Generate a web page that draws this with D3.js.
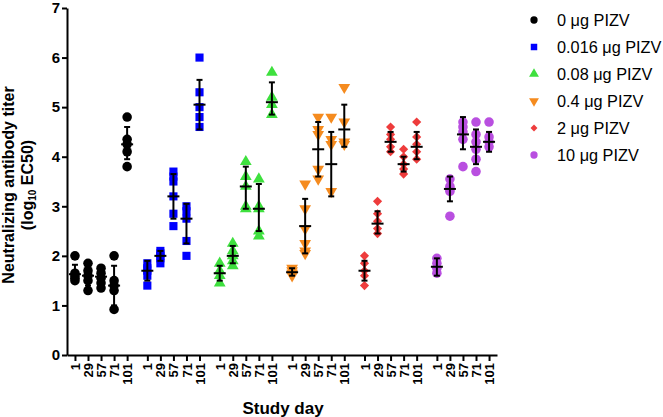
<!DOCTYPE html>
<html><head><meta charset="utf-8">
<script src="https://cdn.jsdelivr.net/npm/d3@7"></script>
<style>body{margin:0;background:#fff}svg{display:block}text{font-family:"Liberation Sans",Arial,sans-serif}</style>
</head><body><svg id="c" width="663" height="417"></svg>
<script>
const days = ["1","29","57","71","101"];
const groups = ["0 μg PIZV","0.016 μg PIZV","0.08 μg PIZV","0.4 μg PIZV","2 μg PIZV","10 μg PIZV"];
const colors = ["#000000","#0000ff","#3ee03e","#f58b1f","#ee3c3c","#b94fe0"];
const shapes = ["circle","square","triangle","triangleDown","diamond","circle"];
const yTicks = [0,1,2,3,4,5,6,7];
// individual points, per group, per day
const pts0 = [[2.0,1.65,1.6,1.55,1.5],[1.85,1.7,1.6,1.5,1.3],[1.75,1.65,1.55,1.45,1.35],[2.0,1.5,1.4,1.3,0.92],[4.8,4.35,4.25,4.1,3.8]];
const pts1 = [[1.85,1.75,1.7,1.6,1.4],[2.1,2.05,2.0,1.95,1.85],[3.7,3.6,3.5,3.2,2.85,2.6],[3.0,2.9,2.75,2.3,2.0],[6.0,5.3,5.0,4.8,4.6]];
const pts2 = [[1.85,1.7,1.6,1.45],[2.25,2.1,2.0,1.9,1.8],[3.9,3.6,3.4,3.0,2.95],[3.55,3.0,2.95,2.5,2.4],[5.7,5.2,5.05,4.85]];
const pts3 = [[1.75,1.7,1.65,1.6],[3.45,2.95,2.55,2.25,2.1,2.05],[4.8,4.55,4.45,3.75,3.55],[4.8,4.35,4.25,3.3],[5.4,4.7,4.3,4.25]];
const pts4 = [[2.0,1.85,1.7,1.6,1.4],[3.1,2.85,2.7,2.55,2.45],[4.6,4.45,4.35,4.2,4.1],[4.15,4.0,3.85,3.75,3.65],[4.7,4.4,4.25,4.1,3.95]];
const pts5 = [[1.95,1.85,1.75,1.65],[3.55,3.4,3.35,3.3,2.8],[4.7,4.6,4.5,4.35,3.8],[4.7,4.45,4.3,4.15,3.95,3.7],[4.7,4.4,4.3,4.2]];
// mean and error-bar bounds per group, per day
const mean0 = [1.63,1.6,1.58,1.4,4.25], lo0 = [1.45,1.4,1.4,1.0,3.95], hi0 = [1.82,1.8,1.75,1.8,4.6];
const mean1 = [1.7,2.0,3.2,2.75,5.05], lo1 = [1.5,1.9,2.75,2.25,4.55], hi1 = [1.9,2.1,3.65,3.05,5.55];
const mean2 = [1.65,2.0,3.4,2.95,5.1], lo2 = [1.5,1.85,2.95,2.5,4.85], hi2 = [1.8,2.2,3.8,3.45,5.5];
const mean3 = [1.67,2.6,4.15,3.85,4.55], lo3 = [1.6,2.05,3.6,3.2,4.2], hi3 = [1.75,3.15,4.7,4.5,5.05];
const mean4 = [1.7,2.65,4.3,3.85,4.2], lo4 = [1.5,2.45,4.1,3.7,3.95], hi4 = [1.9,2.9,4.5,4.0,4.5];
const mean5 = [1.78,3.35,4.45,4.2,4.3], lo5 = [1.6,3.1,4.15,3.85,4.1], hi5 = [1.95,3.6,4.8,4.55,4.5];

const pts = [pts0,pts1,pts2,pts3,pts4,pts5];
const means = [mean0,mean1,mean2,mean3,mean4,mean5];
const los = [lo0,lo1,lo2,lo3,lo4,lo5];
const his = [hi0,hi1,hi2,hi3,hi4,hi5];

const svg = d3.select("#c");
const GAP = 5.55;
const slot = (g,i) => g*GAP + i;
const x = d3.scaleLinear().domain([-0.61, 5*GAP+4+0.61]).range([67, 497]);
const y = d3.scaleLinear().domain([0,7]).range([355, 8]);

const symMap = {circle:d3.symbolCircle, square:d3.symbolSquare, triangle:d3.symbolTriangle, triangleDown:d3.symbolTriangle, diamond:d3.symbolSquare};
function sym(s, size){ return d3.symbol().type(symMap[s]).size(size)(); }
const rot = s => s==="triangleDown" ? " rotate(180)" : (s==="diamond" ? " rotate(45)" : "");
const sizes = {circle:72, square:66, triangle:60, triangleDown:60, diamond:42};

// points
groups.forEach((gname,g)=>{
  days.forEach((d,i)=>{
    const cx = x(slot(g,i));
    const gg = svg.append("g");
    pts[g][i].forEach(v=>{
      gg.append("path").attr("d", sym(shapes[g], sizes[shapes[g]]))
        .attr("transform", `translate(${cx},${y(v)})` + rot(shapes[g]))
        .attr("fill", colors[g]);
    });
  });
});
// error bars
groups.forEach((gname,g)=>{
  days.forEach((d,i)=>{
    const cx = x(slot(g,i));
    const e = svg.append("g").attr("stroke","#000").attr("stroke-width",2);
    e.append("line").attr("x1",cx).attr("x2",cx).attr("y1",y(los[g][i])).attr("y2",y(his[g][i]));
    e.append("line").attr("x1",cx-3).attr("x2",cx+3).attr("y1",y(los[g][i])).attr("y2",y(los[g][i]));
    e.append("line").attr("x1",cx-3).attr("x2",cx+3).attr("y1",y(his[g][i])).attr("y2",y(his[g][i]));
    e.append("line").attr("x1",cx-6).attr("x2",cx+6).attr("y1",y(means[g][i])).attr("y2",y(means[g][i]));
  });
});

// axes
const yAxis = d3.axisLeft(y).tickValues(yTicks).tickSize(5).tickSizeOuter(0).tickFormat(d3.format("d"));
const ya = svg.append("g").attr("transform","translate(67,0)").call(yAxis);
ya.selectAll("path,line").attr("stroke","#000").attr("stroke-width",2);
ya.selectAll("text").attr("font-size",15).attr("font-weight","bold").attr("fill","#000").attr("x",-7);

const tickVals = [], tickLab = [];
groups.forEach((gname,g)=>days.forEach((d,i)=>{tickVals.push(slot(g,i)); tickLab.push(d);}));
const xAxis = d3.axisBottom(x).tickValues(tickVals).tickSize(6).tickSizeOuter(0).tickFormat((d,k)=>tickLab[k]);
const xa = svg.append("g").attr("transform","translate(0,355)").call(xAxis);
xa.selectAll("path,line").attr("stroke","#000").attr("stroke-width",2);
xa.selectAll("text").attr("font-size",13).attr("font-weight","bold").attr("fill","#000")
  .attr("text-anchor","end").attr("dy","0.35em").attr("x",0).attr("y",0)
  .attr("transform","translate(0,8) rotate(-90)");

// titles
svg.append("text").attr("x",283).attr("y",414).attr("text-anchor","middle")
  .attr("font-size",17).attr("font-weight","bold").text("Study day");
const yt = svg.append("text").attr("transform","translate(14,185) rotate(-90)").attr("text-anchor","middle")
  .attr("font-size",16).attr("font-weight","bold");
yt.append("tspan").attr("x",0).attr("y",0).text("Neutralizing antibody titer");
const t2 = yt.append("tspan").attr("x",0).attr("y",19).text("(log");
t2.append("tspan").attr("font-size",10).attr("dy",3).text("10");
yt.append("tspan").attr("dy",-3).text(" EC50)");

// legend
const leg = svg.append("g");
groups.forEach((gname,g)=>{
  const ly = 20 + g*27;
  leg.append("path").attr("d", sym(shapes[g], shapes[g]==="diamond"?24:42))
    .attr("transform", `translate(534,${ly})` + rot(shapes[g]))
    .attr("fill", colors[g]);
  leg.append("text").attr("x",557).attr("y",ly).attr("dy","0.35em").attr("font-size",16.3).attr("fill","#000").text(gname);
});
</script></body></html>
